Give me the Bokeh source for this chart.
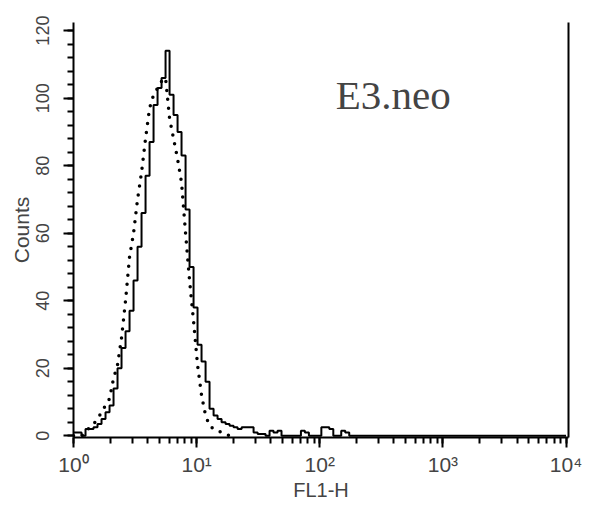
from bokeh.plotting import figure
from bokeh.models import (LinearAxis, LogTicker, SingleIntervalTicker,
                          FixedTicker, Range1d, Label)
from bokeh.embed import file_html
from bokeh.resources import INLINE

# FL1-H bin left edges (log-scale channels) and counts
solid_x = [1.00, 1.078, 1.162, 1.252, 1.349, 1.454, 1.567, 1.689, 1.820, 1.962,
           2.114, 2.278, 2.455, 2.646, 2.852, 3.073, 3.312, 3.569, 3.847, 4.146,
           4.468, 4.815, 5.189, 5.592, 6.027, 6.495, 7.00, 7.54, 8.13, 8.76,
           9.44, 10.17, 10.96, 11.82, 12.73, 13.73, 14.79, 15.94, 17.18, 18.52,
           19.95, 21.50, 23.2, 25.0, 26.9, 29.0, 31.3, 33.7, 36.3, 39.1,
           42.1, 45.4, 48.9, 70.3, 75.7, 81.6, 103.0, 110.9, 119.5, 128.8,
           149.4, 161.0, 173.5, 10000.0]
solid_y = [1, 1, 0, 2, 2, 2.5, 3.5, 5, 7, 9,
           14, 20, 26, 31, 37, 46, 56, 66, 77, 87,
           98, 103, 106, 114, 101, 95, 90, 83, 67, 50,
           38, 27, 22, 16, 8, 6, 5, 4, 3.5, 3,
           2.5, 2, 2.5, 2.5, 2.5, 1, 0.5, 0.5, 0, 1.5,
           1, 1.5, 0, 1.5, 1, 0, 2.5, 2.5, 2, 0,
           1.5, 1, 0, 0]

dot_x = [1.00, 1.162, 1.252, 1.349, 1.454, 1.567, 1.689, 1.820, 1.962, 2.114,
         2.278, 2.455, 2.646, 2.852, 3.073, 3.312, 3.569, 3.847, 4.146, 4.468,
         4.815, 5.189, 5.592, 6.027, 6.495, 7.00, 7.54, 8.13, 8.76, 9.44,
         10.17, 10.96, 11.82, 12.73, 13.73, 14.79, 15.94, 17.18, 18.52]
dot_y = [0, 0, 1, 2.5, 3.5, 5, 7, 9, 11, 17,
         21, 29, 40, 53, 60, 70, 78, 88, 97, 101,
         103, 105, 106, 94, 88, 82, 75, 60, 46, 34,
         21, 12, 6, 3, 2, 1.5, 1, 0.5, 0]

x_ticks = [1, 10, 100, 1000, 10000]
x_tick_labels = ["10\u2070", "10\u00b9", "10\u00b2", "10\u00b3", "10\u2074"]

FONT = "Liberation Sans"

p = figure(width=590, height=506, x_axis_type="log",
           x_range=Range1d(1, 10 ** 4.02), y_range=Range1d(-0.5, 122.4),
           output_backend="svg", toolbar_location=None,
           min_border_left=73, min_border_right=22, min_border_top=22,
           min_border_bottom=69)
p.grid.visible = False
p.outline_line_color = None
p.background_fill_color = "white"

p.step(solid_x, solid_y, mode="after", line_color="black", line_width=2)
p.line(dot_x, dot_y, line_color="black", line_width=3.5,
       line_dash="0 9", line_cap="round")

xa = p.xaxis[0]
xa.ticker = LogTicker(num_minor_ticks=10, desired_num_ticks=5)
xa.major_label_overrides = {t: l for t, l in zip(x_ticks, x_tick_labels)}
xa.axis_label = "FL1-H"
xa.axis_label_text_font = FONT
xa.axis_label_text_font_style = "normal"
xa.axis_label_text_font_size = "20px"
xa.axis_label_standoff = 0
xa.major_label_text_font = FONT
xa.major_label_text_font_size = "21px"
xa.major_label_standoff = 5
xa.axis_line_width = 2
xa.major_tick_line_width = 2
xa.minor_tick_line_width = 2
xa.major_tick_in = 0
xa.major_tick_out = 10
xa.minor_tick_in = 0
xa.minor_tick_out = 6

ya = p.yaxis[0]
ya.ticker = SingleIntervalTicker(interval=20, num_minor_ticks=5)
ya.axis_label = "Counts"
ya.axis_label_text_font = FONT
ya.axis_label_text_font_style = "normal"
ya.axis_label_text_font_size = "21px"
ya.axis_label_standoff = 1
ya.major_label_text_font = FONT
ya.major_label_text_font_size = "18px"
ya.major_label_orientation = "parallel"
ya.major_label_standoff = 14
ya.axis_line_width = 2
ya.major_tick_line_width = 2
ya.minor_tick_line_width = 2
ya.major_tick_in = 0
ya.major_tick_out = 10
ya.minor_tick_in = 0
ya.minor_tick_out = 6

right = LinearAxis(ticker=FixedTicker(ticks=[]), axis_line_width=2,
                   major_tick_line_color=None, minor_tick_line_color=None)
p.add_layout(right, "right")

p.add_layout(Label(x=135, y=101, text="E3.neo", text_font="Liberation Serif",
                   text_font_size="41px", text_baseline="middle",
                   text_align="left"))

open("out.html", "w").write(file_html(p, INLINE))
